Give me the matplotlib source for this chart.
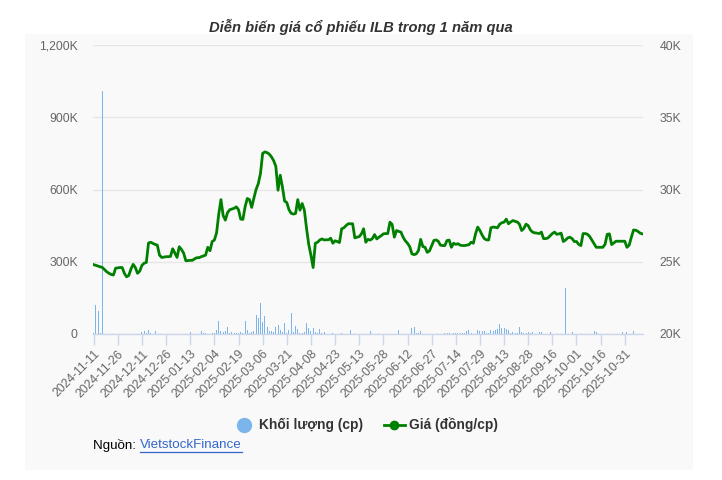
import matplotlib
matplotlib.use("Agg")
import matplotlib.pyplot as plt
from matplotlib.lines import Line2D
from matplotlib.patches import Rectangle
from matplotlib.ticker import FuncFormatter, FixedLocator

plt.rcParams['font.family'] = ['Liberation Sans', 'DejaVu Sans']

# ---------------- data ----------------
tick_labels = ["2024-11-11", "2024-11-26", "2024-12-11", "2024-12-26", "2025-01-13",
               "2025-02-04", "2025-02-19", "2025-03-06", "2025-03-21", "2025-04-08",
               "2025-04-23", "2025-05-13", "2025-05-28", "2025-06-12", "2025-06-27",
               "2025-07-14", "2025-07-29", "2025-08-13", "2025-08-28", "2025-09-16",
               "2025-10-01", "2025-10-16", "2025-10-31"]
tick_step = 11  # trading days between labels

# closing price (thousand dong), one value per trading day
price_k = [
    24.8, 24.75, 24.7, 24.65, 24.6, 24.45, 24.3, 24.2, 24.12, 24.08,
    24.55, 24.58, 24.6, 24.6, 24.2, 23.96, 24.05, 24.5, 24.82, 24.6,
    24.2, 24.35, 24.75, 24.9, 24.95, 26.3, 26.35, 26.27, 26.2, 26.15,
    25.46, 25.3, 25.32, 25.35, 25.35, 25.37, 25.9, 25.6, 25.3, 26.04,
    25.85, 25.6, 25.07, 25.08, 25.1, 25.1, 25.2, 25.28, 25.28, 25.35,
    25.4, 25.46, 26.0, 25.76, 26.4, 26.5, 27.0, 28.3, 29.3, 28.2,
    27.88, 28.4, 28.6, 28.65, 28.7, 28.8, 28.6, 27.95, 27.93, 28.8,
    29.38, 29.3, 28.76, 29.4, 30.0, 30.4, 31.1, 32.5, 32.6, 32.55,
    32.45, 32.26, 32.0, 31.6, 29.95, 30.99, 30.18, 29.2, 29.1, 28.6,
    28.35, 28.3, 28.34, 29.3, 28.57, 29.03, 28.57, 27.3, 26.2, 25.45,
    24.6, 26.28, 26.35, 26.5, 26.58, 26.51, 26.52, 26.52, 26.63, 26.28,
    26.45, 26.4, 26.33, 27.28, 27.35, 27.5, 27.63, 27.63, 27.63, 26.65,
    26.7, 26.74, 26.93, 27.28, 26.35, 26.55, 26.5, 26.6, 26.88, 26.58,
    26.7, 26.8, 26.93, 26.95, 26.95, 27.74, 27.58, 26.7, 27.16, 27.1,
    27.05, 26.7, 26.45, 26.28, 26.05, 25.55, 25.49, 25.55, 25.77, 26.55,
    26.05, 26.0, 25.65, 25.75, 26.1, 26.47, 26.51, 26.42, 26.15, 26.12,
    26.12, 26.47, 26.5, 26.0, 26.28, 26.2, 26.25, 26.15, 26.12, 26.12,
    26.15, 26.18, 26.35, 26.28, 26.93, 27.4, 27.16, 26.85, 26.6, 26.51,
    26.51, 27.35, 27.4, 27.38, 27.35, 27.6, 27.7, 27.74, 27.95, 27.63,
    27.75, 27.85, 27.8, 27.75, 27.6, 27.16, 27.3, 27.6, 27.5, 27.2,
    27.05, 27.0, 26.98, 26.95, 27.05, 26.6, 26.6, 26.65, 26.8, 26.95,
    27.05, 26.9, 26.93, 26.98, 26.4, 26.5, 26.65, 26.7, 26.6, 26.4,
    26.4, 26.2, 26.12, 26.95, 26.95, 26.9, 26.75, 26.5, 26.25, 26.0,
    26.0, 26.0, 26.0, 26.2, 26.9, 26.93, 26.19, 26.3, 26.42, 26.42,
    26.42, 26.42, 26.42, 26.0, 26.15, 26.7, 27.2, 27.18, 27.1, 26.98,
    26.93,
]

# traded volume (thousand shares), one value per trading day
volume_k = [
    3, 120, 97, 3, 1010, 2, 2, 2, 2, 2,
    2, 2, 2, 2, 2, 2, 2, 2, 2, 2,
    2, 2, 8, 12, 3, 17, 3, 2, 11, 2,
    2, 2, 2, 2, 2, 2, 2, 2, 2, 2,
    2, 2, 2, 2, 7, 2, 2, 2, 2, 11,
    3, 6, 2, 2, 6, 4, 17, 54, 12, 8,
    14, 28, 4, 8, 3, 3, 3, 7, 5, 54,
    17, 4, 8, 12, 79, 65, 130, 50, 75, 28,
    12, 12, 10, 30, 37, 15, 8, 44, 5, 15,
    89, 8, 33, 22, 4, 3, 7, 47, 23, 12,
    23, 10, 4, 22, 3, 7, 2, 2, 2, 6,
    2, 2, 2, 6, 2, 2, 2, 17, 2, 2,
    2, 2, 2, 2, 2, 2, 12, 2, 2, 2,
    2, 2, 2, 2, 2, 2, 2, 2, 2, 17,
    2, 2, 2, 2, 2, 23, 28, 3, 3, 12,
    2, 2, 2, 2, 2, 2, 2, 2, 2, 2,
    6, 6, 6, 2, 6, 6, 3, 3, 3, 3,
    14, 17, 3, 2, 2, 17, 11, 11, 12, 3,
    3, 17, 14, 15, 20, 42, 23, 23, 22, 17,
    3, 8, 3, 3, 28, 10, 3, 3, 8, 3,
    8, 2, 2, 10, 8, 2, 2, 2, 8, 2,
    2, 2, 2, 2, 2, 190, 2, 2, 7, 2,
    2, 2, 2, 2, 2, 2, 2, 2, 11, 10,
    2, 2, 2, 2, 2, 2, 2, 2, 2, 2,
    2, 7, 2, 8, 2, 2, 12, 2, 2, 2,
    2,
]

title = "Diễn biến giá cổ phiếu ILB trong 1 năm qua"
legend_labels = ["Khối lượng (cp)", "Giá (đồng/cp)"]

# ---------------- figure ----------------
W, H = 722, 480
fig = plt.figure(figsize=(W / 100, H / 100), dpi=100, facecolor="white")

# light grey panel
panel = Rectangle((25 / W, 1 - 470 / H), (693 - 25) / W, (470 - 34) / H,
                  transform=fig.transFigure, facecolor="#f9f9f9",
                  edgecolor="none", zorder=-10)
fig.add_artist(panel)

ax = fig.add_axes([93 / W, 1 - 334 / H, (643 - 93) / W, (334 - 45) / H])
ax.set_facecolor("none")
ax2 = ax.twinx()
ax2.set_facecolor("none")

n = len(price_k)
xs = list(range(n))
vol = [v * 1000 for v in volume_k]
prc = [p * 1000 for p in price_k]

ax.bar(xs, vol, width=0.45, color="#7cb5ec", edgecolor="none", zorder=2)
ax2.plot(xs, prc, color="#008000", linewidth=2.0, zorder=3, solid_joinstyle="round")

ax.set_xlim(-0.3, n - 0.7)
ax.set_ylim(0, 1200000)
ax2.set_ylim(20000, 40000)

ax.set_yticks([0, 300000, 600000, 900000, 1200000])
ax.yaxis.set_major_formatter(FuncFormatter(lambda v, p: "0" if v == 0 else f"{int(v/1000):,}K"))
ax2.set_yticks([20000, 25000, 30000, 35000, 40000])
ax2.yaxis.set_major_formatter(FuncFormatter(lambda v, p: f"{int(v/1000)}K"))

ax.grid(axis="y", color="#e6e6e6", linewidth=1, zorder=0)
ax.set_axisbelow(True)

for a in (ax, ax2):
    for s in a.spines.values():
        s.set_visible(False)
ax.spines["bottom"].set_visible(True)
ax.spines["bottom"].set_color("#ccd6eb")
ax.spines["bottom"].set_linewidth(1)

ax.tick_params(axis="y", length=0, labelsize=8.8, labelcolor="#666666", pad=11)
ax2.tick_params(axis="y", length=0, labelsize=8.8, labelcolor="#666666", pad=12)

tick_pos = [i * tick_step for i in range(len(tick_labels))]
ax.xaxis.set_major_locator(FixedLocator(tick_pos))
ax.set_xticklabels(tick_labels, rotation=45, ha="right", rotation_mode="anchor")
ax.tick_params(axis="x", length=8, width=1, color="#ccd6eb", labelsize=8.8,
               labelcolor="#666666", pad=2)

# title
fig.text(361 / W, 1 - 27 / H, title, ha="center", va="center", fontsize=10.6,
         fontweight="bold", fontstyle="italic", color="#333333")

# legend
handles = [Line2D([], [], linestyle="none", marker="o", markersize=10,
                  markerfacecolor="#7cb5ec", markeredgecolor="#7cb5ec"),
           Line2D([], [], color="#008000", linewidth=2, marker="o", markersize=6,
                  markerfacecolor="#008000", markeredgecolor="#008000")]
leg = fig.legend(handles, legend_labels, loc="center", bbox_to_anchor=(366 / W, 1 - 425 / H),
                 ncol=2, frameon=False, handlelength=1.5, columnspacing=1.5,
                 handletextpad=0.35, prop={"weight": "bold", "size": 9.9})
for t in leg.get_texts():
    t.set_color("#333333")

# source
t1 = fig.text(93 / W, 1 - 445 / H, "Nguồn: ", ha="left", va="center", fontsize=9.6,
              color="#000000")
fig.canvas.draw()
bb = t1.get_window_extent()
x2 = bb.x1 / (W)
t2 = fig.text(x2, 1 - 445 / H, "VietstockFinance", ha="left", va="center", fontsize=9.6,
              color="#3366cc")
fig.canvas.draw()
bb2 = t2.get_window_extent()
fig.add_artist(Line2D([bb2.x0 / W, bb2.x1 / W], [(bb2.y0 - 0.5) / H] * 2,
                      transform=fig.transFigure, color="#3366cc", linewidth=0.9))

fig.savefig("out.png", dpi=100, facecolor="white")
